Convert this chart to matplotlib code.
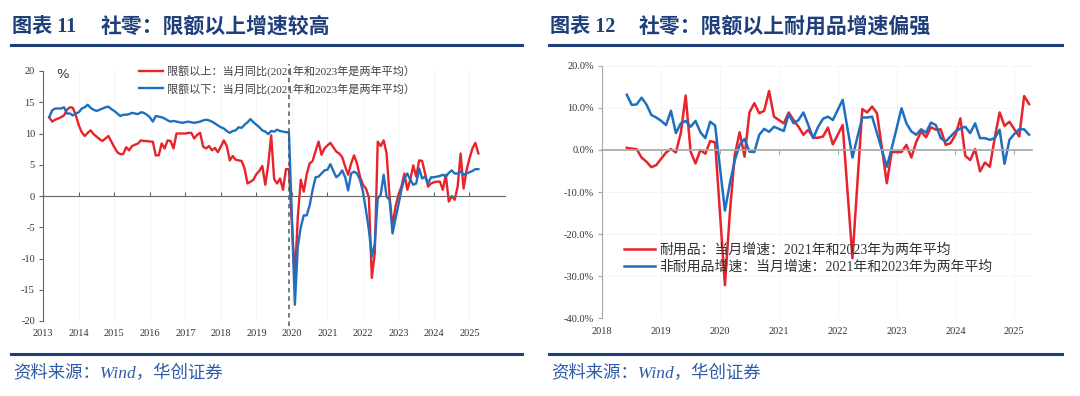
import pandas as pd
import matplotlib.pyplot as plt
from matplotlib.lines import Line2D

plt.rcParams['font.family'] = ['Liberation Serif', 'Noto Sans CJK SC']
plt.rcParams['axes.unicode_minus'] = False

# ---------------- data ----------------
# chart 11: monthly, Mar 2013 - Apr 2025 (Jan 2020 not published)
months_11 = pd.date_range('2013-03-01', '2025-04-01', freq='MS').drop(pd.Timestamp('2020-01-01'))
above_limit = [
    12.6, 11.9, 12.2, 12.4, 12.6, 12.9, 13.8, 14.2, 14.1, 12.9,
    11.3, 10.2, 9.6, 10.1, 10.5, 9.9, 9.5, 9.1, 8.8, 9.2, 9.6, 8.7,
    7.8, 7.0, 6.7, 6.7, 7.8, 7.3, 8.0, 8.2, 8.4, 8.9, 8.8, 8.8,
    8.7, 8.7, 6.5, 6.5, 8.4, 7.6, 8.9, 8.8, 7.6, 10.0, 10.0, 10.0,
    10.0, 10.1, 10.1, 9.2, 9.8, 10.1, 7.9, 7.6, 8.0, 7.3, 7.7, 7.0,
    7.9, 8.9, 8.0, 5.7, 6.4, 5.8, 5.7, 5.6, 4.4, 2.0, 2.3, 2.6,
    3.5, 4.0, 4.8, 1.8, 5.0, 9.7, 2.7, 2.0, 2.8, 1.0, 4.3, 4.3,
    -13.0, -3.3, 2.6, 0.7, 3.5, 5.2, 5.6, 7.2, 8.7, 6.6, 7.6,
    8.1, 8.5, 7.8, 7.1, 6.8, 6.2, 4.7, 3.4, 5.2, 6.5, 5.2, 3.1,
    1.8, 1.2, -0.2, -13.1, -9.1, 8.7, 8.0, 8.9, 6.8, -0.1, -4.9, -1.7,
    0.2, 1.5, 3.6, 1.0, 2.6, 4.9, 3.1, 5.7, 5.6, 3.6, 1.5, 2.0,
    2.2, 2.3, 2.3, 1.0, 3.4, -0.9, 0.0, -0.6, 1.5, 6.8, 1.2, 4.1,
    6.0, 7.6, 8.5, 6.8,
]
below_limit = [
    12.6, 13.7, 14.0, 14.0, 14.0, 14.2, 13.2, 13.2, 12.9, 13.2,
    13.4, 14.0, 14.2, 14.6, 14.1, 13.8, 13.6, 13.8, 14.0, 14.2, 14.3, 13.9,
    13.6, 13.2, 12.8, 13.0, 13.0, 13.1, 13.3, 13.2, 13.1, 13.4, 13.3, 13.0,
    12.6, 11.9, 12.8, 12.7, 12.6, 12.4, 12.1, 11.9, 12.0, 11.9, 11.8, 11.7,
    11.8, 11.9, 11.8, 11.7, 11.8, 11.9, 12.1, 12.2, 12.1, 11.9, 11.6, 11.3,
    11.0, 10.8, 10.4, 10.1, 10.4, 10.5, 11.0, 10.9, 11.4, 11.8, 12.3, 11.8,
    11.4, 11.0, 10.5, 10.3, 9.9, 10.4, 10.3, 10.6, 10.4, 10.3, 10.2, 10.2,
    -17.4, -8.0, -5.0, -3.1, -3.1, -1.5, 1.0, 3.0, 3.1, 3.6, 4.1,
    4.2, 5.1, 4.0, 3.0, 3.4, 4.1, 3.0, 0.9, 3.6, 3.9, 3.6, 2.6,
    0.7, -2.2, -5.4, -9.7, -7.6, -0.4, 0.2, 3.4, -0.1, -0.6, -6.0, -3.6,
    -1.4, 1.0, 2.8, 3.6, 2.6, 1.8, 2.0, 4.4, 2.8, 3.1, 2.0, 3.0,
    3.0, 3.1, 3.2, 3.4, 3.1, 3.7, 4.1, 3.6, 3.6, 3.9, 3.4, 3.6,
    3.8, 4.0, 4.3, 4.3,
]
break_month = pd.Timestamp('2019-12-01')
years_11 = list(range(2013, 2026))

# chart 12: monthly, Jun 2018 - Apr 2025 (Jan 2020 not published), %
months_12 = pd.date_range('2018-06-01', '2025-04-01', freq='MS').drop(pd.Timestamp('2020-01-01'))
durable = [
    0.5, 0.3, 0.2, -1.8, -2.8, -4.1, -3.6,
    -2.1, -0.6, 0.2, -0.6, 4.0, 12.9, -0.4, -3.2, 0.0, -0.9, 2.1, 1.8,
    -32.1, -15.0, -1.2, 4.2, -1.6, 8.9, 11.1, 8.7, 9.3, 14.0, 7.9,
    7.1, 6.3, 8.9, 7.1, 5.5, 3.6, 4.8, 2.9, 2.9, 3.2, 5.3, 1.3,
    3.6, 5.9, -10.0, -25.7, -8.0, 9.7, 8.9, 10.3, 8.7, 0.5, -7.9, -0.5,
    -0.5, -0.5, 1.2, -1.8, 1.9, 4.4, 3.0, 5.4, 4.8, 4.9, 1.2, 1.6,
    3.6, 7.5, -1.4, -2.4, 0.2, -5.1, -3.0, -4.0, 2.8, 8.9, 5.7, 6.7,
    4.9, 3.2, 12.8, 10.9,
]
non_durable = [
    13.1, 10.7, 10.8, 12.4, 10.8, 8.3, 7.7,
    6.9, 5.9, 9.3, 4.0, 6.3, 6.9, 5.5, 6.9, 4.2, 2.8, 6.7, 5.8,
    -14.4, -8.0, -2.5, 1.2, 2.6, -0.4, -0.5, 3.6, 5.0, 4.3, 5.5,
    5.0, 4.5, 8.5, 6.3, 7.1, 8.9, 5.9, 2.8, 5.5, 7.4, 7.9, 7.1,
    9.5, 11.9, 5.0, -1.8, 3.0, 7.7, 7.7, 7.9, 4.0, 0.0, -4.0, 0.4,
    5.1, 9.9, 6.3, 4.4, 3.6, 4.9, 4.1, 6.5, 5.9, 2.8, 2.0, 3.2,
    4.4, 5.1, 5.5, 4.0, 6.3, 2.8, 2.8, 2.4, 2.8, 4.8, -3.3, 2.4,
    3.8, 4.9, 4.9, 3.6,
]
years_12 = list(range(2018, 2026))

labels_11 = ['限额以上：当月同比(2021年和2023年是两年平均）',
             '限额以下：当月同比(2021年和2023年是两年平均）']
labels_12 = ['耐用品：当月增速：2021年和2023年为两年平均',
             '非耐用品增速：当月增速：2021年和2023年为两年平均']

RED = '#e8232b'
BLUE = '#1f6fc1'
NAVY = '#1f3f7a'


def dec_year(idx):
    return idx.year + (idx.month - 1) / 12


fig = plt.figure(figsize=(10.8, 3.96), dpi=100)
W, H = 1080, 396

# ---------------- headers / footers ----------------
for x0, x1, num, title in [(11, 522, '图表 11', '社零：限额以上增速较高'),
                           (549, 1062, '图表 12', '社零：限额以上耐用品增速偏强')]:
    fig.text(x0 / W + 0.001, 1 - 27 / H, num, fontsize=14.5, fontweight='bold',
             color=NAVY, va='center', ha='left')
    fig.text((x0 + 90) / W, 1 - 27 / H, title, fontsize=15, fontweight='bold',
             color=NAVY, va='center', ha='left')
    fig.add_artist(Line2D([x0 / W, x1 / W], [1 - 45 / H] * 2, color=NAVY, lw=2.2))
    fig.add_artist(Line2D([x0 / W, x1 / W], [1 - 354 / H] * 2, color=NAVY, lw=2.2))
    fig.text((x0 + 2) / W, 1 - 374 / H, '资料来源：Wind，华创证券', fontsize=12.5,
             color='#2e5aa8', va='center', ha='left', style='italic')

# ---------------- chart 11 ----------------
ax1 = fig.add_axes([43.3 / W, 75 / H, 461.7 / W, 250 / H])
x11 = dec_year(months_11)
ax1.plot(x11, above_limit, color=RED, lw=1.7, label=labels_11[0])
ax1.plot(x11, below_limit, color=BLUE, lw=1.7, label=labels_11[1])
ax1.axvline(dec_year(pd.DatetimeIndex([break_month]))[0], ymin=-0.02, ymax=1.03,
            color='#555555', ls=(0, (3, 2.5)), lw=1.1, clip_on=False, zorder=5)
ax1.set_xlim(2013, 2026)
ax1.set_ylim(-20, 20)
ax1.set_yticks(range(-20, 21, 5))
ax1.set_xticks(years_11)
ax1.grid(axis='x', color='#f2f2f2', lw=0.6)
for s in ['top', 'right']:
    ax1.spines[s].set_visible(False)
ax1.spines['bottom'].set_position(('data', 0))
ax1.spines['bottom'].set_color('#666666')
ax1.spines['left'].set_color('#666666')
ax1.tick_params(axis='x', labelbottom=False, direction='in', length=3, color='#666666')
ax1.tick_params(axis='y', direction='out', length=3, color='#666666',
                labelsize=7.5, labelcolor='#333333', pad=3)
sec1 = ax1.secondary_xaxis(0)
sec1.set_xticks(years_11)
sec1.set_xticklabels([str(y) for y in years_11])
sec1.tick_params(length=0, labelsize=7.5, labelcolor='#333333', pad=6)
sec1.spines['bottom'].set_visible(False)
ax1.text(0.027, 0.985, '%', transform=ax1.transAxes, fontsize=9.5,
         family='DejaVu Sans', color='#333333', va='center', ha='left')
ax1.legend(loc='upper left', bbox_to_anchor=(0.195, 1.045), frameon=False,
           fontsize=8.0, handlelength=2.2, handletextpad=0.3, labelspacing=0.5,
           borderpad=0, labelcolor='#404040')

# ---------------- chart 12 ----------------
ax2 = fig.add_axes([602.3 / W, 77.6 / H, 429.7 / W, 252.7 / H])
x12 = dec_year(months_12)
ax2.plot(x12, durable, color=RED, lw=1.8, label=labels_12[0])
ax2.plot(x12, non_durable, color=BLUE, lw=1.8, label=labels_12[1])
ax2.set_xlim(2018, 2025.3)
ax2.set_ylim(-40, 20)
ax2.set_yticks(range(-40, 21, 10))
ax2.set_yticklabels([f'{v:.1f}%' for v in range(-40, 21, 10)])
ax2.set_xticks(years_12)
ax2.grid(color='#f4f4f4', lw=0.6)
for s in ['top', 'right']:
    ax2.spines[s].set_visible(False)
ax2.spines['bottom'].set_position(('data', 0))
ax2.spines['bottom'].set_color('#a6a6a6')
ax2.spines['bottom'].set_linewidth(1.2)
ax2.spines['left'].set_color('#a6a6a6')
ax2.tick_params(axis='x', labelbottom=False, direction='out', length=3, color='#a6a6a6')
ax2.tick_params(axis='y', direction='out', length=3, color='#a6a6a6',
                labelsize=7.5, labelcolor='#333333', pad=3)
sec2 = ax2.secondary_xaxis(0)
sec2.set_xticks(years_12)
sec2.set_xticklabels([str(y) for y in years_12])
sec2.tick_params(length=0, labelsize=7.5, labelcolor='#333333', pad=6)
sec2.spines['bottom'].set_visible(False)
ax2.legend(loc='center left', bbox_to_anchor=(0.035, 0.235), frameon=False,
           fontsize=10, handlelength=2.2, handletextpad=0.3, labelspacing=0.25,
           borderpad=0, labelcolor='#333333')

fig.savefig('out.png', dpi=100)
